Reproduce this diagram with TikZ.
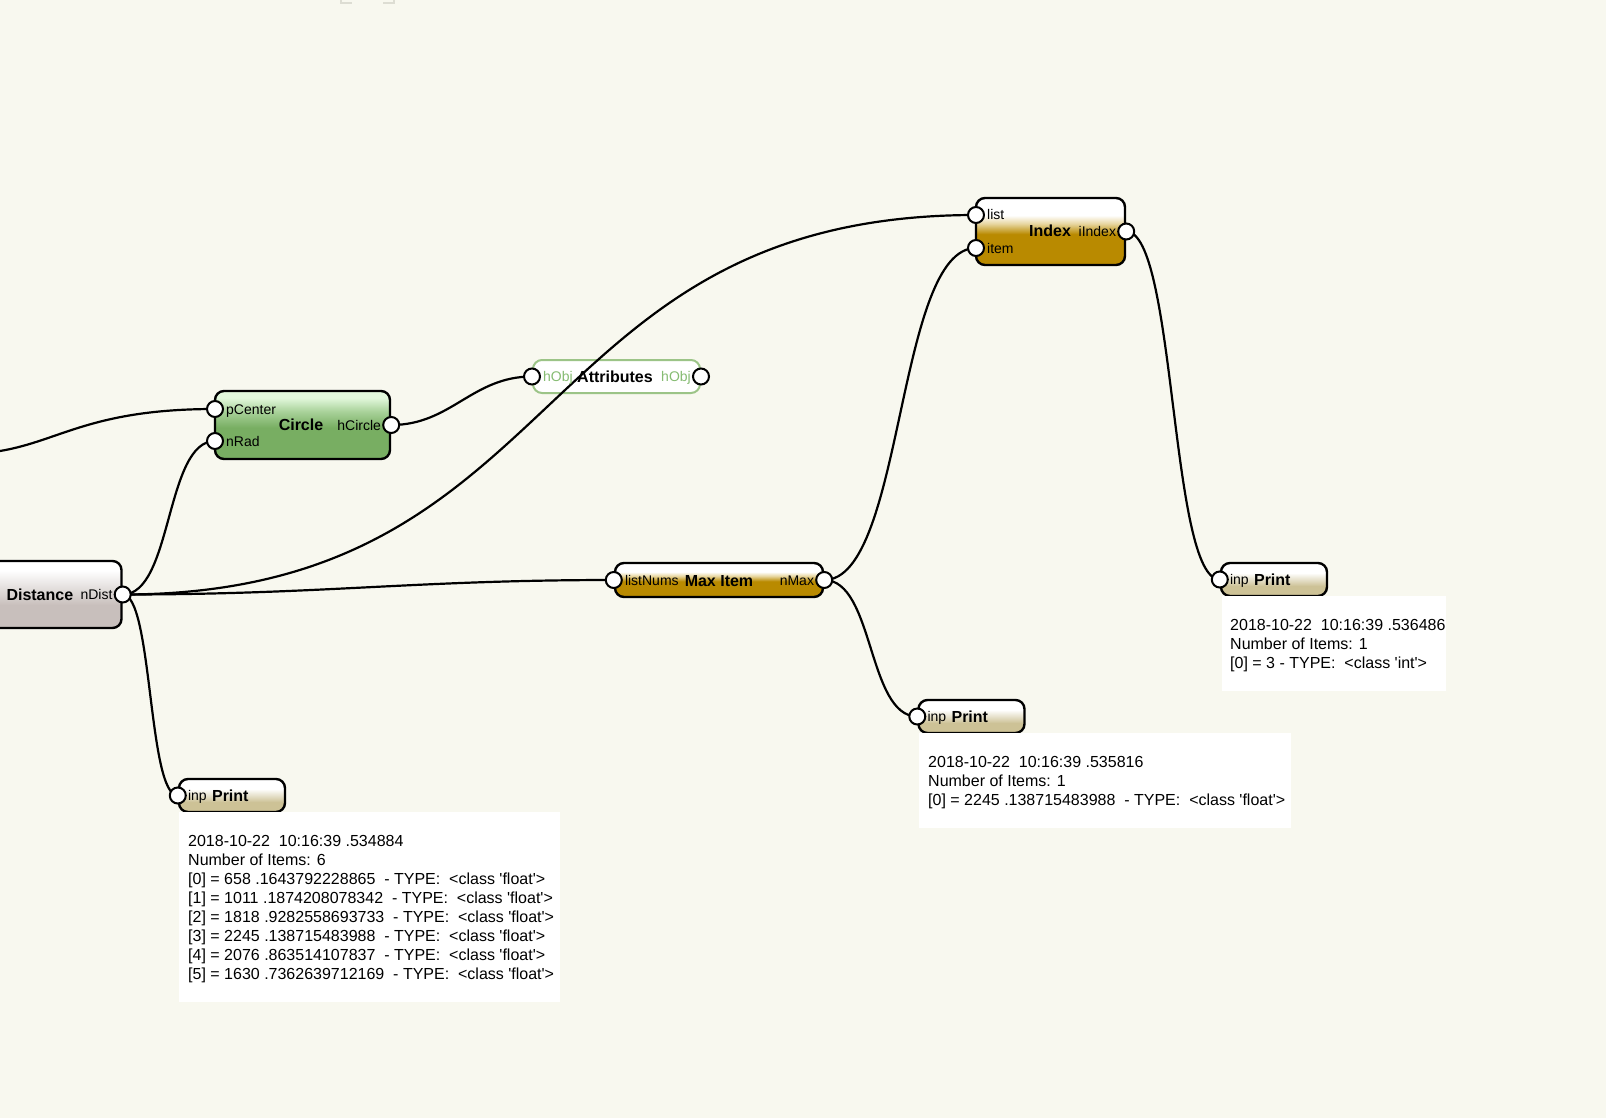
\documentclass[tikz,border=0pt]{standalone}
\usepackage{fontspec}
\setmainfont{Liberation Sans}
\usetikzlibrary{positioning}

\definecolor{clrCanvas}{HTML}{F8F8EF}
\definecolor{clrFrame}{HTML}{DDDDD3}
\definecolor{clrGold}{HTML}{B98A00}
\definecolor{clrGoldLt}{HTML}{E8D7A2}
\definecolor{clrGreen}{HTML}{78AE62}
\definecolor{clrGreenMid}{HTML}{A9D29A}
\definecolor{clrGreenTop}{HTML}{E2F8DC}
\definecolor{clrTan}{HTML}{CDC296}
\definecolor{clrGrey}{HTML}{C8BFBC}
\definecolor{clrAttr}{HTML}{9CC487}
\definecolor{clrAttrTxt}{HTML}{86BC72}

\pgfdeclareverticalshading{goldshade}{100bp}{color(0bp)=(clrGold); color(48bp)=(clrGold); color(56bp)=(clrGoldLt); color(62bp)=(white); color(100bp)=(white)}
\pgfdeclareverticalshading{greenshade}{100bp}{color(0bp)=(clrGreen); color(48bp)=(clrGreen); color(60bp)=(clrGreenMid); color(70bp)=(clrGreenTop); color(100bp)=(clrGreenTop)}
\pgfdeclareverticalshading{tanshade}{100bp}{color(0bp)=(clrTan); color(40bp)=(clrTan); color(60bp)=(white); color(100bp)=(white)}
\pgfdeclareverticalshading{greyshade}{100bp}{color(0bp)=(clrGrey); color(42bp)=(clrGrey); color(68bp)=(white); color(100bp)=(white)}

\pgfdeclarelayer{boxes}
\pgfdeclarelayer{wires}
\pgfsetlayers{boxes,wires,main}

\newcommand{\tq}{\textquotesingle}

\begin{document}
\begin{tikzpicture}[
    x=1pt, y=-1pt,
    every node/.style={font=\fontsize{14}{16}\selectfont},
    box/.style={draw=black, line width=2.4pt, rounded corners=9pt, inner sep=0pt, shade},
    distbox/.style={box, shading=greyshade},
    circbox/.style={box, shading=greenshade},
    opbox/.style={box, shading=goldshade},
    printbox/.style={box, shading=tanshade, minimum width=106pt, minimum height=33pt},
    attrbox/.style={draw=clrAttr, line width=2pt, rounded corners=9pt, fill=white, inner sep=0pt},
    port/.style={circle, draw=black, fill=white, line width=2pt, minimum size=16pt, inner sep=0pt},
    portlbl/.style={inner sep=1pt, text height=10pt, text depth=0pt},
    title/.style={font=\bfseries\fontsize{16}{18}\selectfont, inner sep=0pt, text height=11.5pt, text depth=0pt},
    wire/.style={line width=2.2pt},
    outbox/.style={fill=white, inner sep=0pt, anchor=north west},
    outtext/.style={font=\fontsize{16}{19}\selectfont, align=left, inner sep=0pt, anchor=north west}
]
\useasboundingbox (0,0) rectangle (1606,1118);

\begin{pgfonlayer}{boxes}
%% ---- Canvas ----
\fill[clrCanvas] (0,0) rectangle (1606,1118);
\draw[clrFrame, line width=2pt] (341,0) -- (341,3) -- (352,3);
\draw[clrFrame, line width=2pt] (383,3) -- (394,3) -- (394,0);

%% ---- Function boxes ----
\node[distbox, minimum width=135pt, minimum height=67pt] (distance) at (54,594.5) {};
\node[circbox, minimum width=175pt, minimum height=68pt] (circ) at (302.5,425) {};
\node[attrbox, minimum width=167pt, minimum height=33pt] (attrs) at (616.5,376.5) {};
\node[opbox, minimum width=208pt, minimum height=34pt] (maxitem) at (719,580) {};
\node[opbox, minimum width=149pt, minimum height=67pt] (index) at (1050.5,231.5) {};
\node[printbox] (print1) at (232,795.5) {};
\node[printbox] (print2) at (971.5,716.5) {};
\node[printbox] (print3) at (1274,579.5) {};

%% ---- Output panels ----
\node[outbox, minimum width=381pt, minimum height=190pt] (out1) at (179,812) {};
\node[outbox, minimum width=372pt, minimum height=95pt] (out2) at (919,733) {};
\node[outbox, minimum width=224pt, minimum height=95pt] (out3) at (1222,596) {};
\end{pgfonlayer}

%% ---- Ports ----
\coordinate (offleft) at (0,451);
\node[port] (pdist) at (distance.east) {};
\node[port] (pcenter) at (215,409) {};
\node[port] (pnrad) at (215,441) {};
\node[port] (phcircle) at (circ.east) {};
\node[port] (pobjin) at (attrs.west) {};
\node[port] (pobjout) at (attrs.east) {};
\node[port] (plistnums) at (maxitem.west) {};
\node[port] (pnmax) at (maxitem.east) {};
\node[port] (plist) at (976,215) {};
\node[port] (pitem) at (976,248) {};
\node[port] (pindex) at (index.east) {};
\node[port] (pinp1) at (print1.west) {};
\node[port] (pinp2) at (print2.west) {};
\node[port] (pinp3) at (print3.west) {};

%% ---- Labels ----
\node[portlbl, left=0pt of pdist] (ndistlbl) {nDist};
\node[title, left=6pt of ndistlbl] (disttitle) {Distance};

\node[portlbl, right=1pt of pcenter] (pcenterlbl) {pCenter};
\node[portlbl, right=1pt of pnrad] (nradlbl) {nRad};
\node[portlbl, left=0pt of phcircle] (hcirclelbl) {hCircle};
\node[title] (circtitle) at (301,425) {Circle};

\node[portlbl, text=clrAttrTxt, right=1pt of pobjin] (objinlbl) {hObj};
\node[portlbl, text=clrAttrTxt, left=0pt of pobjout] (objoutlbl) {hObj};
\node[title] (attrtitle) at (615,377) {Attributes};

\node[portlbl, right=1pt of plistnums] (listnumslbl) {listNums};
\node[portlbl, left=0pt of pnmax] (nmaxlbl) {nMax};
\node[title] (maxtitle) at (719,581) {Max Item};

\node[portlbl, right=1pt of plist] (listlbl) {list};
\node[portlbl, right=1pt of pitem] (itemlbl) {item};
\node[portlbl, left=0pt of pindex] (indexlbl) {iIndex};
\node[title] (indextitle) at (1050,231) {Index};

\node[portlbl, right=0pt of pinp1] (inp1) {inp};
\node[title, right=4pt of inp1] (ptitle1) {Print};
\node[portlbl, right=0pt of pinp2] (inp2) {inp};
\node[title, right=4pt of inp2] (ptitle2) {Print};
\node[portlbl, right=0pt of pinp3] (inp3) {inp};
\node[title, right=4pt of inp3] (ptitle3) {Print};

%% ---- Print output ----
\node[outtext] (out1txt) at (188,835) {2018-10-22~~10:16:39 .534884\\
  Number of Items: 6\\
  {[0]} = 658 .1643792228865~~- TYPE:~~<class \tq float\tq>\\
  {[1]} = 1011 .1874208078342~~- TYPE:~~<class \tq float\tq>\\
  {[2]} = 1818 .9282558693733~~- TYPE:~~<class \tq float\tq>\\
  {[3]} = 2245 .138715483988~~- TYPE:~~<class \tq float\tq>\\
  {[4]} = 2076 .863514107837~~- TYPE:~~<class \tq float\tq>\\
  {[5]} = 1630 .7362639712169~~- TYPE:~~<class \tq float\tq>};
\node[outtext] (out2txt) at (928,756) {2018-10-22~~10:16:39 .535816\\
  Number of Items: 1\\
  {[0]} = 2245 .138715483988~~- TYPE:~~<class \tq float\tq>};
\node[outtext] (out3txt) at (1230,619) {2018-10-22~~10:16:39 .536486\\
  Number of Items: 1\\
  {[0]} = 3 - TYPE:~~<class \tq int\tq>};

%% ---- Wires ----
\begin{pgfonlayer}{wires}
\draw[wire] (offleft) .. controls +(60,-10) and +(-124,0) .. (pcenter.center);
\draw[wire] (pdist.center) .. controls +(50,0) and +(-50,0) .. (pnrad.center);
\draw[wire] (pdist.center) .. controls +(450,0) and +(-450,0) .. (plist.center);
\draw[wire] (pdist.center) .. controls +(200,0) and +(-200,0) .. (plistnums.center);
\draw[wire] (pdist.center) .. controls +(30,0) and +(-30,0) .. (pinp1.center);
\draw[wire] (phcircle.center) .. controls +(60,0) and +(-60,0) .. (pobjin.center);
\draw[wire] (pnmax.center) .. controls +(80,0) and +(-80,0) .. (pitem.center);
\draw[wire] (pnmax.center) .. controls +(50,0) and +(-50,0) .. (pinp2.center);
\draw[wire] (pindex.center) .. controls +(50,0) and +(-50,0) .. (pinp3.center);
\end{pgfonlayer}

\end{tikzpicture}
\end{document}
